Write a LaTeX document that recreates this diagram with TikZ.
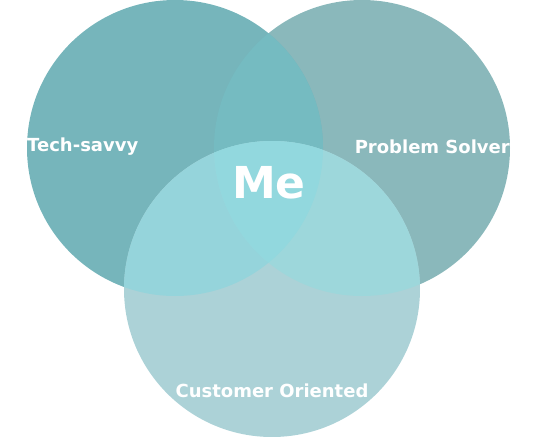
\documentclass[tikz,border=0pt]{standalone}
\usepackage{fontspec}
\setmainfont{DejaVu Sans}
\usetikzlibrary{positioning}
\definecolor{cTech}{HTML}{76B5BB}
\definecolor{cProb}{HTML}{8AB8BB}
\definecolor{cCust}{HTML}{ACD2D7}
\definecolor{cTP}{HTML}{75BBC1}
\definecolor{cTC}{HTML}{95D4DB}
\definecolor{cPC}{HTML}{9DD7DB}
\definecolor{cMe}{HTML}{92D8DE}
\tikzset{
  lbl/.style={text=white,font=\bfseries\fontsize{18}{18}\selectfont,inner sep=0pt},
  me/.style={text=white,font=\bfseries\fontsize{44}{44}\selectfont,inner sep=0pt}
}

\begin{document}
\begin{tikzpicture}[x=1pt,y=-1pt]
\useasboundingbox(0,0)rectangle(539,437);
\coordinate(T)at(175,148);\coordinate(P)at(362,148);\coordinate(C)at(272,289);
% the three sets
\fill[cProb](P)circle(148pt);
\fill[cTech](T)circle(148pt);
\fill[cCust](C)circle(148pt);
% overlaps
\begin{scope}\clip(T)circle(148pt);
\fill[cTP](P)circle(148pt);\fill[cTC](C)circle(148pt);
\end{scope}
\begin{scope}\clip(P)circle(148pt);
\fill[cPC](C)circle(148pt);
\clip(T)circle(148pt);\fill[cMe](C)circle(148pt);
\end{scope}
% labels
\node[lbl,anchor=west](tech)at(27,147){Tech-savvy};
\node[lbl,anchor=east](prob)at(510,147){Problem Solver};
\node[lbl](cust)at(272,391){Customer Oriented};
\node[me](me)at(269,183){Me};
\end{tikzpicture}
\end{document}
